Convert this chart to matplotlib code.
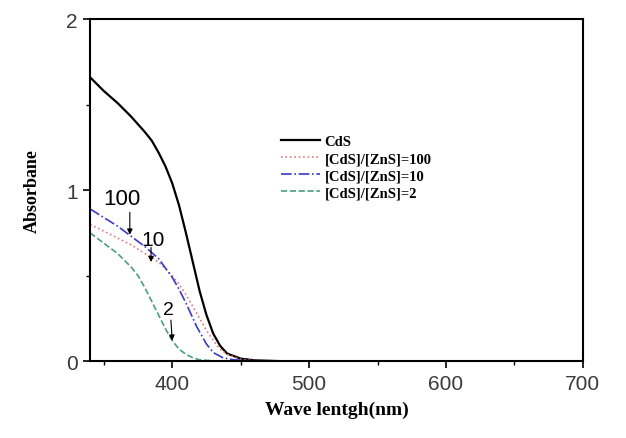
import matplotlib
matplotlib.use("Agg")
import matplotlib.pyplot as plt
from matplotlib.ticker import MultipleLocator

# Data
wl_cds = [340, 350, 360, 370, 380, 385, 390, 395, 400, 405, 410, 415, 420, 425, 430, 435, 440, 450, 460, 480, 500, 600, 700]
abs_cds = [1.66, 1.58, 1.51, 1.43, 1.34, 1.29, 1.22, 1.14, 1.04, 0.91, 0.75, 0.58, 0.41, 0.27, 0.16, 0.09, 0.045, 0.015, 0.005, 0.0, 0.0, 0.0, 0.0]

wl_100 = [340, 350, 360, 370, 380, 390, 400, 405, 410, 415, 420, 425, 430, 435, 440, 450, 460, 480, 500, 600, 700]
abs_100 = [0.80, 0.76, 0.72, 0.68, 0.63, 0.58, 0.50, 0.45, 0.39, 0.32, 0.25, 0.18, 0.12, 0.07, 0.04, 0.01, 0.003, 0.0, 0.0, 0.0, 0.0]

wl_10 = [340, 350, 360, 370, 380, 390, 400, 405, 410, 418, 425, 430, 437, 445, 460, 480, 500, 600, 700]
abs_10 = [0.89, 0.84, 0.79, 0.73, 0.67, 0.60, 0.49, 0.42, 0.34, 0.20, 0.10, 0.05, 0.02, 0.008, 0.002, 0.0, 0.0, 0.0, 0.0]

wl_2 = [340, 350, 360, 365, 370, 375, 380, 385, 390, 395, 400, 405, 410, 415, 420, 430, 450, 500, 600, 700]
abs_2 = [0.75, 0.69, 0.63, 0.59, 0.55, 0.50, 0.43, 0.35, 0.27, 0.19, 0.12, 0.07, 0.04, 0.02, 0.008, 0.002, 0.0, 0.0, 0.0, 0.0]

labels = ["CdS", "[CdS]/[ZnS]=100", "[CdS]/[ZnS]=10", "[CdS]/[ZnS]=2"]
xticks = [400, 500, 600, 700]
yticks = [0, 1, 2]

fig = plt.figure(figsize=(6.26, 4.39), dpi=100)
ax = fig.add_axes([0.144, 0.175, 0.787, 0.779])

ax.plot(wl_cds, abs_cds, color="black", lw=1.6, ls="-", label=labels[0])
ax.plot(wl_100, abs_100, color="#e07a7a", lw=1.2, ls=":", label=labels[1])
ax.plot(wl_10, abs_10, color="#3a3ac8", lw=1.2, ls="-.", label=labels[2])
ax.plot(wl_2, abs_2, color="#4aa07a", lw=1.2, ls="--", label=labels[3])

ax.set_xlim(340, 700)
ax.set_ylim(0, 2)
ax.set_xticks(xticks)
ax.set_yticks(yticks)
ax.xaxis.set_minor_locator(MultipleLocator(50))
ax.yaxis.set_minor_locator(MultipleLocator(0.5))
ax.tick_params(which="major", direction="out", length=5, width=1.2,
               labelsize=15, top=False, right=False, pad=4)
ax.tick_params(which="minor", direction="out", length=3, width=1.0, top=False, right=False)
for lab in ax.get_xticklabels() + ax.get_yticklabels():
    lab.set_family("Liberation Sans")
    lab.set_color("#3a3a3a")
for sp in ax.spines.values():
    sp.set_linewidth(1.5)

ax.set_xlabel("Wave lentgh(nm)", family="Liberation Serif", fontweight="bold", fontsize=14, labelpad=6)
ax.set_ylabel("Absorbane", family="Liberation Serif", fontweight="bold", fontsize=13, labelpad=18)

arrowprops = dict(arrowstyle="-|>", color="black", lw=0.8, mutation_scale=8, shrinkA=0, shrinkB=0)
ax.text(363, 0.95, "100", ha="center", va="center", fontsize=16, family="Liberation Sans")
ax.annotate("", xy=(369, 0.74), xytext=(369, 0.87), arrowprops=arrowprops)
ax.text(386, 0.71, "10", ha="center", va="center", fontsize=15, family="Liberation Sans")
ax.annotate("", xy=(384.5, 0.58), xytext=(384.5, 0.665), arrowprops=arrowprops)
ax.text(397, 0.30, "2", ha="center", va="center", fontsize=14, family="Liberation Sans")
ax.annotate("", xy=(400, 0.12), xytext=(399, 0.24), arrowprops=arrowprops)

leg = ax.legend(loc="upper left", bbox_to_anchor=(0.36, 0.70), frameon=False,
                prop={"family": "Liberation Serif", "weight": "bold", "size": 10.5},
                handlelength=2.7, handletextpad=0.3, labelspacing=0.27)

fig.savefig("out.png", dpi=100)
